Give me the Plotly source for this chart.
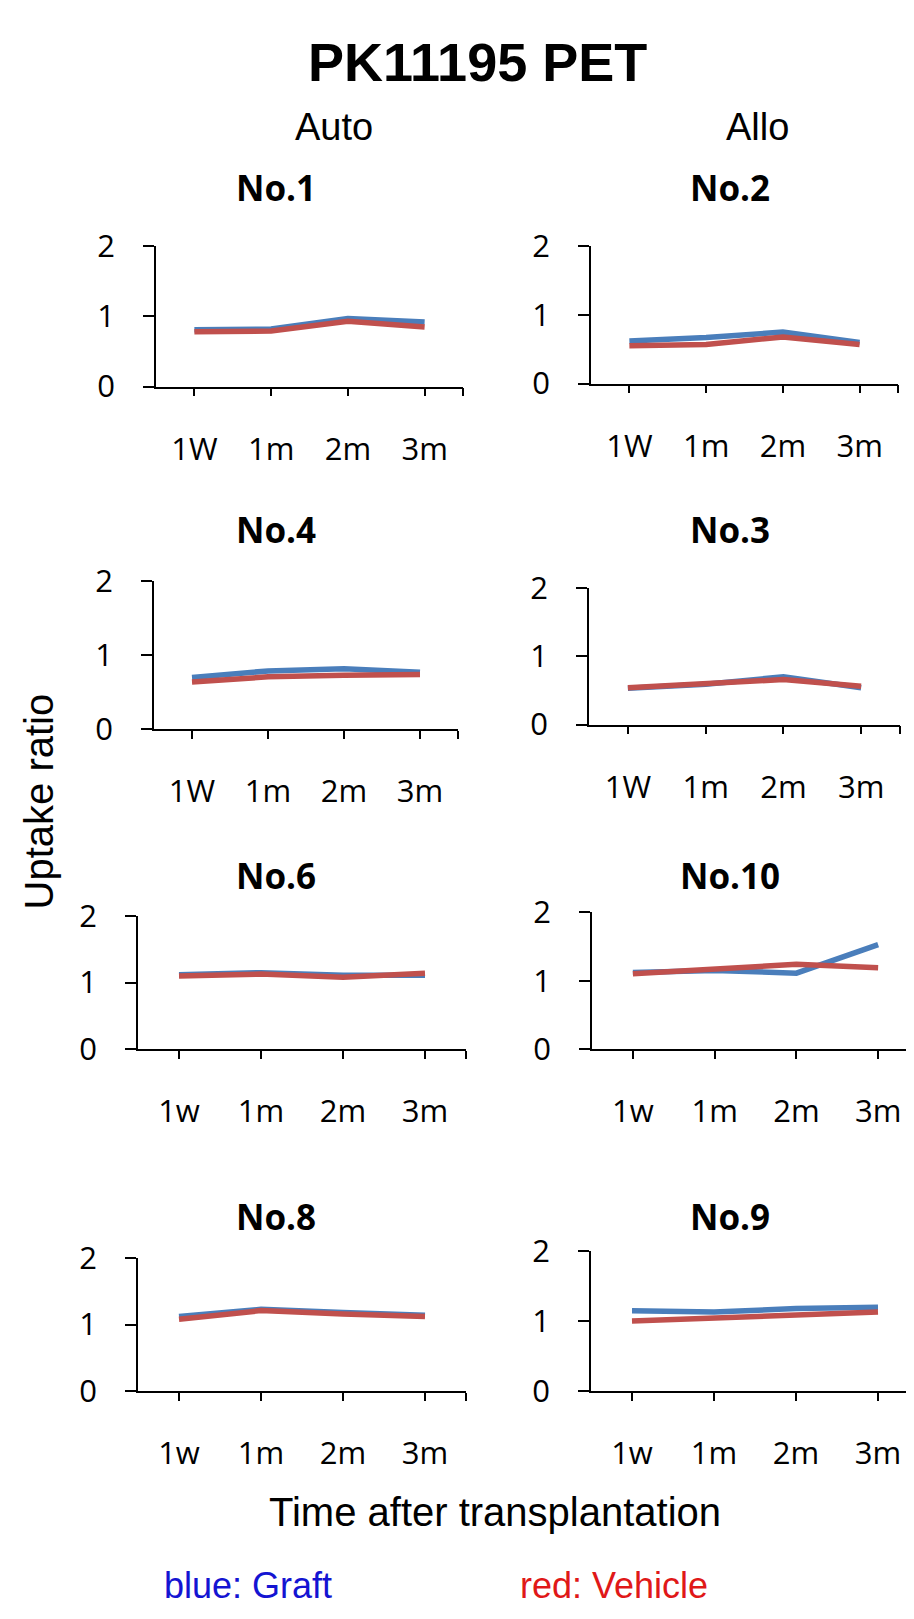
import plotly.graph_objects as go

# ---------------- data ----------------
time_labels_upper = ["1W", "1m", "2m", "3m"]
time_labels_lower = ["1w", "1m", "2m", "3m"]

animal_names = ["No.1", "No.2", "No.4", "No.3", "No.6", "No.10", "No.8", "No.9"]

no1_graft = [0.81, 0.82, 0.97, 0.92]
no1_vehicle = [0.78, 0.79, 0.93, 0.85]
no2_graft = [0.62, 0.67, 0.75, 0.60]
no2_vehicle = [0.55, 0.57, 0.68, 0.57]
no4_graft = [0.70, 0.79, 0.82, 0.77]
no4_vehicle = [0.64, 0.71, 0.73, 0.74]
no3_graft = [0.53, 0.59, 0.70, 0.54]
no3_vehicle = [0.54, 0.59, 0.66, 0.56]
no6_graft = [1.12, 1.15, 1.11, 1.11]
no6_vehicle = [1.10, 1.13, 1.08, 1.14]
no10_graft = [1.12, 1.15, 1.11, 1.53]
no10_vehicle = [1.10, 1.16, 1.24, 1.19]
no8_graft = [1.12, 1.23, 1.18, 1.14]
no8_vehicle = [1.08, 1.21, 1.16, 1.12]
no9_graft = [1.15, 1.13, 1.18, 1.20]
no9_vehicle = [1.00, 1.04, 1.08, 1.13]

y_ticks = [0, 1, 2]

# ---------------- layout geometry (pixels) ----------------
W, H = 914, 1619
# (left, right, top, bottom) of each plotting area in px
panel_boxes = [
    (148, 455, 222, 366), (583, 890, 222, 363),
    (146, 450, 566, 718), (581, 892, 573, 713),
    (130, 458, 910, 1046), (584, 911, 906, 1046),
    (130, 458, 1261, 1397), (583, 911, 1254, 1397),
]
title_pos = [(268, 162), (722, 162), (268, 513), (722, 513),
             (268, 868), (722, 868), (268, 1218), (722, 1218)]

series = [
    (no1_graft, no1_vehicle), (no2_graft, no2_vehicle),
    (no4_graft, no4_vehicle), (no3_graft, no3_vehicle),
    (no6_graft, no6_vehicle), (no10_graft, no10_vehicle),
    (no8_graft, no8_vehicle), (no9_graft, no9_vehicle),
]
label_sets = [time_labels_upper] * 4 + [time_labels_lower] * 4

BLUE = "#4A7EBB"
RED = "#C0504D"
TICK_FONT = dict(family="Open Sans, Noto Sans, sans-serif", size=31, color="black")

fig = go.Figure()
layout = dict(
    width=W, height=H,
    margin=dict(l=0, r=0, t=0, b=0),
    paper_bgcolor="white", plot_bgcolor="white",
    showlegend=False,
)

annotations = []
for i, ((gr, ve), labels, box, tp, name) in enumerate(
        zip(series, label_sets, panel_boxes, title_pos, animal_names)):
    k = "" if i == 0 else str(i + 1)
    xs = list(range(len(labels)))
    fig.add_trace(go.Scatter(x=xs, y=gr, mode="lines",
                             line=dict(color=BLUE, width=5.5),
                             xaxis="x" + k, yaxis="y" + k, name="Graft"))
    fig.add_trace(go.Scatter(x=xs, y=ve, mode="lines",
                             line=dict(color=RED, width=5.5),
                             xaxis="x" + k, yaxis="y" + k, name="Vehicle"))
    l, r, t, b = box
    layout["xaxis" + k] = dict(
        domain=[l / W, r / W], anchor="y" + k,
        range=[-0.5, len(labels) - 0.5],
        tickmode="array",
        tickvals=xs + [len(labels) - 0.5],
        ticktext=labels + [""],
        ticks="outside", ticklen=8, tickwidth=1.8, tickcolor="black",
        showline=True, linecolor="black", linewidth=1.8,
        showgrid=False, zeroline=False,
        tickfont=TICK_FONT, ticklabelstandoff=26,
        fixedrange=True,
    )
    layout["yaxis" + k] = dict(
        domain=[1 - b / H, 1 - t / H], anchor="x" + k,
        range=[0, 2],
        tickmode="array", tickvals=y_ticks,
        ticks="outside", ticklen=11, tickwidth=1.8, tickcolor="black",
        showline=True, linecolor="black", linewidth=1.8,
        showgrid=False, zeroline=False,
        tickfont=TICK_FONT, ticklabelstandoff=22,
        fixedrange=True,
    )
    annotations.append(dict(
        text="<b>" + name + "</b>", x=tp[0] / W, y=1 - tp[1] / H,
        xref="paper", yref="paper", showarrow=False,
        xanchor="center", yanchor="middle",
        font=dict(family="Open Sans, Noto Sans, sans-serif", size=35, color="black"),
    ))

ARIAL = "Liberation Sans, Arial, sans-serif"
annotations += [
    dict(text="<b>PK11195 PET</b>", x=469 / W, y=1 - 33 / H, xref="paper", yref="paper",
         showarrow=False, xanchor="center", yanchor="middle",
         font=dict(family=ARIAL, size=54, color="black")),
    dict(text="Auto", x=326 / W, y=1 - 100 / H, xref="paper", yref="paper",
         showarrow=False, xanchor="center", yanchor="middle",
         font=dict(family=ARIAL, size=38, color="black")),
    dict(text="Allo", x=749 / W, y=1 - 100 / H, xref="paper", yref="paper",
         showarrow=False, xanchor="center", yanchor="middle",
         font=dict(family=ARIAL, size=38, color="black")),
    dict(text="Uptake ratio", x=31 / W, y=1 - 792 / H, xref="paper", yref="paper",
         showarrow=False, xanchor="center", yanchor="middle", textangle=-90,
         font=dict(family=ARIAL, size=40, color="black")),
    dict(text="Time after transplantation", x=487 / W, y=1 - 1521 / H,
         xref="paper", yref="paper", showarrow=False,
         xanchor="center", yanchor="middle",
         font=dict(family=ARIAL, size=40, color="black")),
    dict(text="blue: Graft", x=240 / W, y=1 - 1597 / H, xref="paper", yref="paper",
         showarrow=False, xanchor="center", yanchor="middle",
         font=dict(family=ARIAL, size=36, color="#1414D2")),
    dict(text="red: Vehicle", x=606 / W, y=1 - 1597 / H, xref="paper", yref="paper",
         showarrow=False, xanchor="center", yanchor="middle",
         font=dict(family=ARIAL, size=36, color="#E01818")),
]
layout["annotations"] = annotations
fig.update_layout(**layout)
fig.write_html("out.html")
